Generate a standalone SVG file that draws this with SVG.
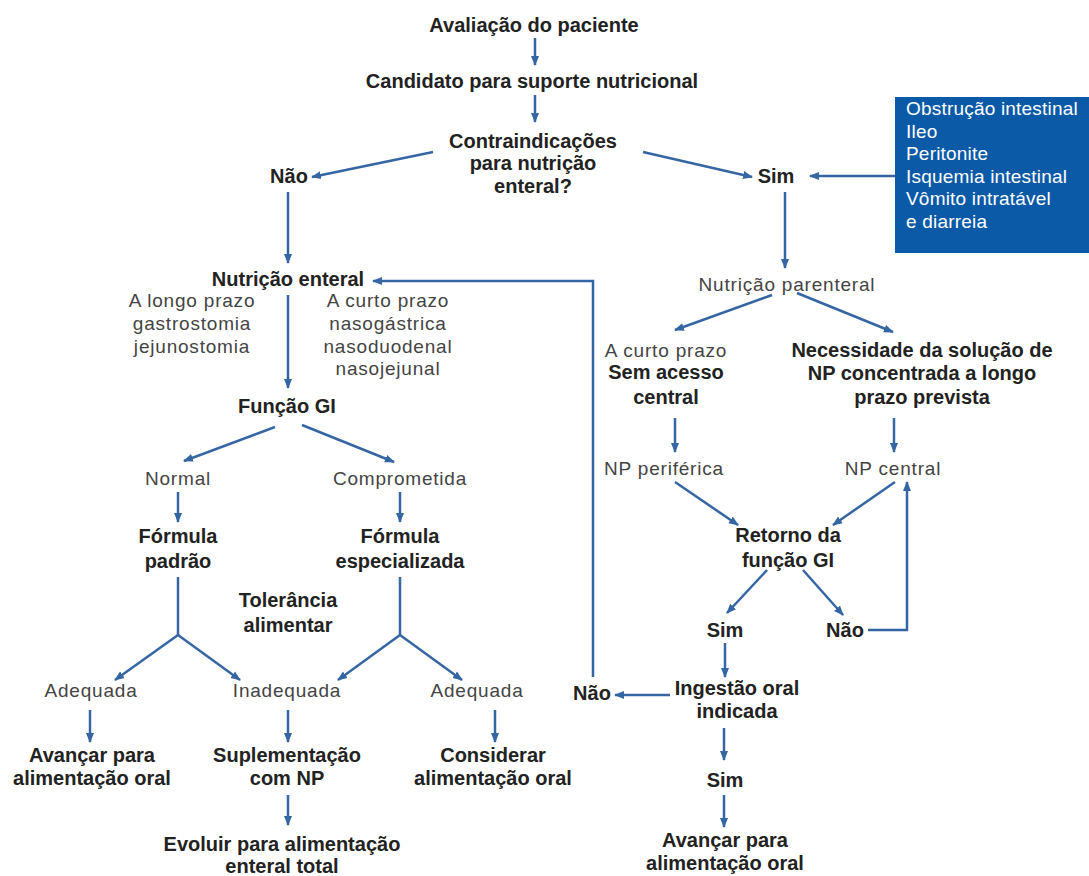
<svg xmlns="http://www.w3.org/2000/svg" width="1089" height="876" viewBox="0 0 1089 876">
<style>
.b{font-family:"Liberation Sans",Arial,sans-serif;font-size:20px;font-weight:bold;fill:#222;text-anchor:middle}
.n{font-family:"Liberation Sans",Arial,sans-serif;font-size:19px;fill:#444;text-anchor:middle;letter-spacing:0.8px}
.w{font-family:"Liberation Sans",Arial,sans-serif;font-size:19px;fill:#fff;letter-spacing:0.2px}
.c{fill:none;stroke:#3566a3;stroke-width:2.5}
.a{marker-end:url(#ah)}
</style>
<defs>
<marker id="ah" markerUnits="userSpaceOnUse" markerWidth="10" markerHeight="10" viewBox="0 0 10 10" refX="9" refY="5" orient="auto">
<path d="M0,1 L10,5 L0,9 Z" fill="#3566a3"/>
</marker>
</defs>
<rect width="1089" height="876" fill="#fff"/>

<g id="connectors">
<path class="c a" d="M535,38 V65"/>
<path class="c a" d="M535,95 V122"/>
<path class="c a" d="M433,152 L312,177"/>
<path class="c a" d="M643,152 L752,177"/>
<path class="c a" d="M895,176 H810"/>
<path class="c a" d="M288,192 V263"/>
<path class="c a" d="M785,192 V268"/>
<path class="c a" d="M593,677 V281 H373"/>
<path class="c a" d="M288,295 V388"/>
<path class="c a" d="M275,427 L184,461"/>
<path class="c a" d="M302,425 L394,462"/>
<path class="c a" d="M178,492 V522"/>
<path class="c a" d="M400,492 V522"/>
<path class="c" d="M178,577 V635"/>
<path class="c a" d="M178,635 L115,680"/>
<path class="c a" d="M178,635 L240,680"/>
<path class="c" d="M400,577 V635"/>
<path class="c a" d="M400,635 L338,680"/>
<path class="c a" d="M400,635 L462,680"/>
<path class="c a" d="M90,710 V742"/>
<path class="c a" d="M288,710 V742"/>
<path class="c a" d="M495,710 V742"/>
<path class="c a" d="M288,795 V825"/>
<path class="c a" d="M772,295 L675,330"/>
<path class="c a" d="M797,293 L893,332"/>
<path class="c a" d="M675,418 V452"/>
<path class="c a" d="M894,418 V452"/>
<path class="c a" d="M675,482 L738,525"/>
<path class="c a" d="M895,482 L833,525"/>
<path class="c a" d="M767,570 L727,613"/>
<path class="c a" d="M803,570 L843,615"/>
<path class="c a" d="M868,630 H907 V482"/>
<path class="c a" d="M725,643 V677"/>
<path class="c a" d="M670,695 H615"/>
<path class="c a" d="M724,728 V760"/>
<path class="c a" d="M724,795 V827"/>
</g>

<g id="n-avaliacao"><text class="b" x="534" y="32">Avaliação do paciente</text></g>
<g id="n-candidato"><text class="b" x="532" y="88">Candidato para suporte nutricional</text></g>
<g id="n-contra"><text class="b" x="533" y="148">Contraindicações</text><text class="b" x="533" y="170">para nutrição</text><text class="b" x="533" y="193">enteral?</text></g>
<g id="n-nao1"><text class="b" x="289" y="183">Não</text></g>
<g id="n-sim1"><text class="b" x="776" y="183">Sim</text></g>
<g id="n-box">
<rect x="895" y="97" width="194" height="156" fill="#0b5aa8"/>
<text class="w" x="906" y="115">Obstrução intestinal</text>
<text class="w" x="906" y="138">Ileo</text>
<text class="w" x="906" y="160">Peritonite</text>
<text class="w" x="906" y="183">Isquemia intestinal</text>
<text class="w" x="906" y="205">Vômito intratável</text>
<text class="w" x="906" y="228">e diarreia</text>
</g>
<g id="n-enteral"><text class="b" x="288" y="286">Nutrição enteral</text></g>
<g id="n-longo"><text class="n" x="192" y="307">A longo prazo</text><text class="n" x="192" y="330">gastrostomia</text><text class="n" x="192" y="353">jejunostomia</text></g>
<g id="n-curto"><text class="n" x="388" y="307">A curto prazo</text><text class="n" x="388" y="330">nasogástrica</text><text class="n" x="388" y="353">nasoduodenal</text><text class="n" x="388" y="375">nasojejunal</text></g>
<g id="n-funcao"><text class="b" x="287" y="413">Função GI</text></g>
<g id="n-normal"><text class="n" x="178" y="485">Normal</text></g>
<g id="n-comprometida"><text class="n" x="400" y="485">Comprometida</text></g>
<g id="n-padrao"><text class="b" x="178" y="543">Fórmula</text><text class="b" x="178" y="568">padrão</text></g>
<g id="n-especializada"><text class="b" x="400" y="543">Fórmula</text><text class="b" x="400" y="568">especializada</text></g>
<g id="n-tolerancia"><text class="b" x="288" y="607">Tolerância</text><text class="b" x="288" y="632">alimentar</text></g>
<g id="n-adequada1"><text class="n" x="91" y="697">Adequada</text></g>
<g id="n-inadequada"><text class="n" x="287" y="697">Inadequada</text></g>
<g id="n-adequada2"><text class="n" x="477" y="697">Adequada</text></g>
<g id="n-avancar1"><text class="b" x="92" y="762">Avançar para</text><text class="b" x="92" y="785">alimentação oral</text></g>
<g id="n-suplementacao"><text class="b" x="287" y="762">Suplementação</text><text class="b" x="287" y="785">com NP</text></g>
<g id="n-considerar"><text class="b" x="493" y="762">Considerar</text><text class="b" x="493" y="785">alimentação oral</text></g>
<g id="n-evoluir"><text class="b" x="282" y="851">Evoluir para alimentação</text><text class="b" x="282" y="873">enteral total</text></g>
<g id="n-parenteral"><text class="n" x="787" y="291">Nutrição parenteral</text></g>
<g id="n-curto2"><text class="n" x="666" y="357">A curto prazo</text><text class="b" x="666" y="379">Sem acesso</text><text class="b" x="666" y="404">central</text></g>
<g id="n-necessidade"><text class="b" x="922" y="357">Necessidade da solução de</text><text class="b" x="922" y="380">NP concentrada a longo</text><text class="b" x="922" y="404">prazo prevista</text></g>
<g id="n-periferica"><text class="n" x="664" y="475">NP periférica</text></g>
<g id="n-central"><text class="n" x="893" y="475">NP central</text></g>
<g id="n-retorno"><text class="b" x="788" y="542">Retorno da</text><text class="b" x="788" y="567">função GI</text></g>
<g id="n-sim2"><text class="b" x="725" y="637">Sim</text></g>
<g id="n-nao2"><text class="b" x="845" y="637">Não</text></g>
<g id="n-nao3"><text class="b" x="592" y="700">Não</text></g>
<g id="n-ingestao"><text class="b" x="737" y="695">Ingestão oral</text><text class="b" x="737" y="718">indicada</text></g>
<g id="n-sim3"><text class="b" x="725" y="787">Sim</text></g>
<g id="n-avancar2"><text class="b" x="725" y="847">Avançar para</text><text class="b" x="725" y="870">alimentação oral</text></g>
</svg>
